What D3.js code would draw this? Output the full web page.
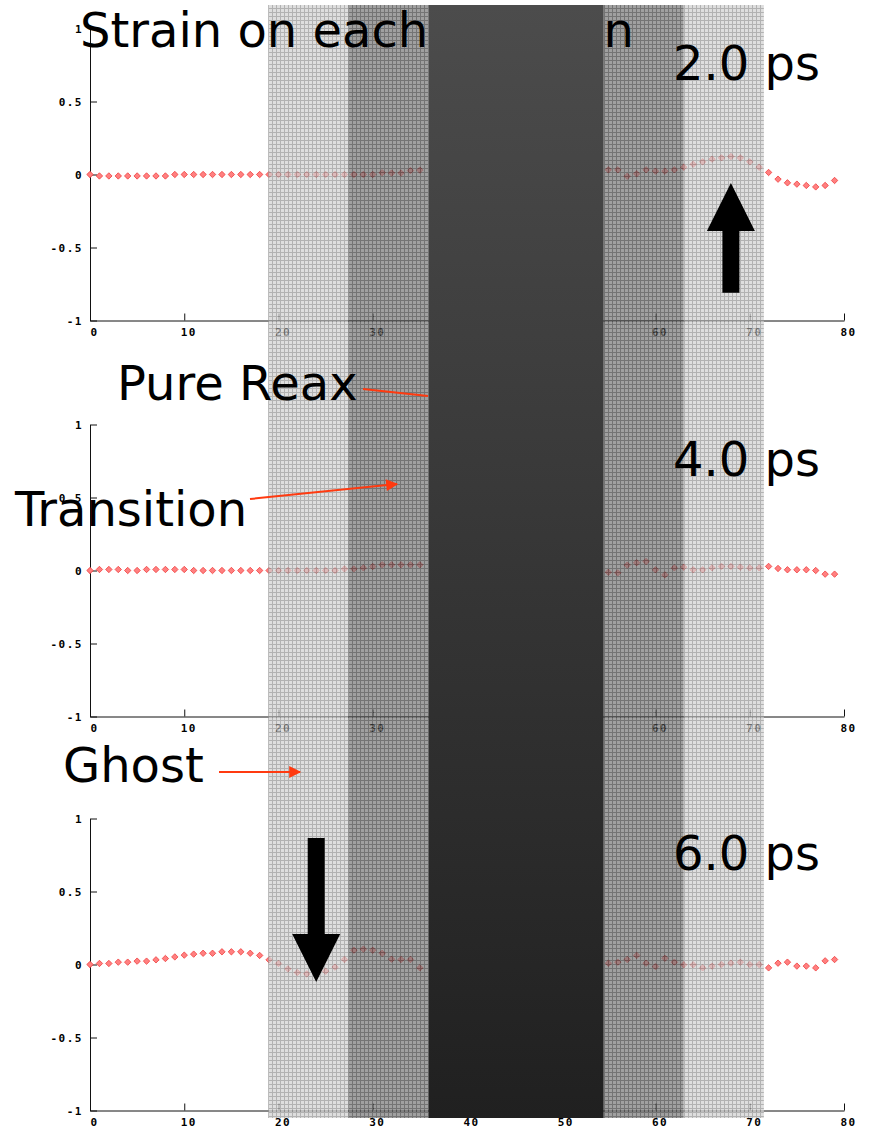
<!DOCTYPE html>
<html>
<head>
<meta charset="utf-8">
<script src="https://cdn.jsdelivr.net/npm/d3@7"></script>
<style>
  body { margin: 0; background: #fff; }
  .tick text { font-family: "DejaVu Sans Mono", monospace; font-size: 11px; font-weight: bold; letter-spacing: 1.5px; fill: #000; }
  .big { font-family: "DejaVu Sans", Verdana, sans-serif; font-size: 48px; fill: #000; }
</style>
</head>
<body>
<svg width="871" height="1132"></svg>
<script>
var svg = d3.select("svg"),
    width = +svg.attr("width"),
    height = +svg.attr("height");

// atom index along the chain (0..79)
var atoms = d3.range(80);
var xTicks = [0, 10, 20, 30, 40, 50, 60, 70, 80];
var yTicks = [-1, -0.5, 0, 0.5, 1];
var times = ["2.0 ps", "4.0 ps", "6.0 ps"];

// strain per atom, null where hidden under the Reax region
var strain2 = [0, -0.01, -0.01, -0.01, -0.01, -0.01, -0.01, -0.01, -0.01, 0,
  0, 0, 0, 0, 0, 0, 0, 0, 0, 0,
  0, 0, 0, 0, 0, 0, 0, 0, 0, 0,
  0, 0.012, 0.01, 0.01, 0.027, 0.03, null, null, null, null,
  null, null, null, null, null, null, null, null, null, null,
  null, null, null, null, null, 0.032, 0.032, -0.012, 0.005, 0.032,
  0.023, 0.023, 0.032, 0.05, 0.07, 0.087, 0.105, 0.114, 0.123, 0.114,
  0.087, 0.05, 0.014, -0.032, -0.057, -0.066, -0.075, -0.085, -0.075, -0.041];
var strain4 = [0, 0.007, 0.007, 0.007, 0, 0, 0.007, 0.007, 0.007, 0.007,
  0.007, 0, 0, 0, 0, 0, 0, 0, 0, 0,
  0, 0, 0, 0, 0, 0, 0, 0.011, 0.011, 0.018,
  0.027, 0.039, 0.039, 0.039, 0.039, 0.039, null, null, null, null,
  null, null, null, null, null, null, null, null, null, null,
  null, null, null, null, null, -0.012, -0.016, 0.037, 0.053, 0.062,
  0.005, -0.03, 0.018, 0.023, 0.005, 0.005, 0.018, 0.028, 0.028, 0.023,
  0.018, 0.018, 0.028, 0.014, 0.005, 0.005, 0.005, 0, -0.025, -0.025];
var strain6 = [0, 0.007, 0.007, 0.016, 0.016, 0.023, 0.023, 0.032, 0.041, 0.052,
  0.064, 0.071, 0.077, 0.077, 0.087, 0.087, 0.087, 0.077, 0.062, 0.032,
  0.007, -0.03, -0.055, -0.064, -0.055, -0.046, -0.018, 0.034, 0.098, 0.105,
  0.098, 0.077, 0.036, 0.034, 0.034, -0.023, null, null, null, null,
  null, null, null, null, null, null, null, null, null, null,
  null, null, null, null, null, 0.009, 0.016, 0.034, 0.062, 0.009,
  -0.014, 0.043, 0.016, -0.002, -0.002, -0.023, -0.011, 0, 0.009, 0.016,
  0, 0, -0.023, 0.009, 0.016, -0.011, -0.011, -0.023, 0.025, 0.034];
var series = [strain2, strain4, strain6];

// region boundaries in atom units: ghost | transition | reax | transition | ghost
var regionEdges = [18.9, 27.4, 35.9, 54.5, 63.0, 71.5];

var panelTops = [28.5, 424.5, 818.5],
    panelH = 292;

var x = d3.scaleLinear().domain([0, 80]).range([90, 844]);

var defs = svg.append("defs");
function gridPattern(id, base, line) {
  var p = defs.append("pattern").attr("id", id)
      .attr("width", 4).attr("height", 4).attr("patternUnits", "userSpaceOnUse");
  p.append("rect").attr("width", 4).attr("height", 4).attr("fill", base);
  p.append("rect").attr("width", 4).attr("height", 1).attr("fill", line);
  p.append("rect").attr("width", 1).attr("height", 4).attr("fill", line);
}
gridPattern("ghost", "#d2d2d2", "#959595");
gridPattern("trans", "#7c7c7c", "#404040");
var grad = defs.append("linearGradient").attr("id", "reax")
    .attr("x1", 0).attr("x2", 0).attr("y1", 0).attr("y2", 1);
grad.append("stop").attr("offset", "0%").attr("stop-color", "#4c4c4c");
grad.append("stop").attr("offset", "100%").attr("stop-color", "#202020");

var diamond = "M0,-3.2L3.2,0L0,3.2L-3.2,0Z";

panelTops.forEach(function(top, i) {
  var y = d3.scaleLinear().domain([-1, 1]).range([top + panelH, top]);
  var g = svg.append("g");

  g.append("g")
      .attr("transform", "translate(0," + y(-1) + ")")
      .call(d3.axisBottom(x).tickValues(xTicks).tickSizeInner(-7).tickSizeOuter(0)
        .tickPadding(8).tickFormat(function(d) { return String(d); }))
      .call(function(a) {
        a.select(".domain").attr("stroke", "#111");
        a.selectAll(".tick line").attr("stroke", "#111");
        a.selectAll(".tick text").attr("dx", 4);
      });

  g.append("g")
      .attr("transform", "translate(" + x(0) + ",0)")
      .call(d3.axisLeft(y).tickValues(yTicks).tickSizeInner(-7).tickSizeOuter(0)
        .tickPadding(7).tickFormat(function(d) { return String(d); }))
      .call(function(a) {
        a.select(".domain").attr("stroke", "#111");
        a.selectAll(".tick line").attr("stroke", "#111");
      });

  g.append("g").selectAll("path")
    .data(atoms.filter(function(k) { return series[i][k] != null; }))
    .enter().append("path")
      .attr("d", diamond)
      .attr("transform", function(k) { return "translate(" + x(k) + "," + y(series[i][k]) + ")"; })
      .attr("fill", "#ff8080")
      .attr("stroke", "#f03c3c")
      .attr("stroke-width", 0.8);
});

// region bands
var bandTop = 5, bandBottom = 1118;
var sideBands = [
  [regionEdges[0], regionEdges[1], "ghost"],
  [regionEdges[1], regionEdges[2], "trans"],
  [regionEdges[3], regionEdges[4], "trans"],
  [regionEdges[4], regionEdges[5], "ghost"]
];
svg.append("g").attr("opacity", 0.72)
  .selectAll("rect").data(sideBands).enter().append("rect")
    .attr("x", function(d) { return x(d[0]); })
    .attr("width", function(d) { return x(d[1]) - x(d[0]); })
    .attr("y", bandTop)
    .attr("height", bandBottom - bandTop)
    .attr("fill", function(d) { return "url(#" + d[2] + ")"; });

svg.append("text").attr("class", "big")
    .attr("x", 80).attr("y", 47)
    .text("Strain on each location");

svg.append("rect")
    .attr("x", x(regionEdges[2]))
    .attr("width", x(regionEdges[3]) - x(regionEdges[2]))
    .attr("y", bandTop)
    .attr("height", bandBottom - bandTop)
    .attr("fill", "url(#reax)");

// time labels
svg.selectAll(".time").data(times).enter().append("text")
    .attr("class", "big")
    .attr("x", 673)
    .attr("y", function(d, i) { return panelTops[i] + 51; })
    .text(function(d) { return d; });

// region labels with red arrows
var red = "#ff3a10";
defs.append("marker").attr("id", "head")
    .attr("viewBox", "0 0 10 10").attr("refX", 9).attr("refY", 5)
    .attr("markerWidth", 8).attr("markerHeight", 6)
    .attr("markerUnits", "strokeWidth").attr("orient", "auto")
  .append("path").attr("d", "M0,0L10,5L0,10Z").attr("fill", red);

var labels = [
  {text: "Pure Reax", tx: 117, ty: 400, line: [[363, 389], [428, 396]], head: false},
  {text: "Transition", tx: 15, ty: 526, line: [[250, 499], [397, 484]], head: true},
  {text: "Ghost", tx: 63, ty: 782, line: [[219, 772], [300, 772]], head: true}
];
labels.forEach(function(l) {
  svg.append("text").attr("class", "big").attr("x", l.tx).attr("y", l.ty).text(l.text);
  svg.append("path")
      .attr("d", d3.line()(l.line))
      .attr("stroke", red)
      .attr("stroke-width", 2)
      .attr("fill", "none")
      .attr("marker-end", l.head ? "url(#head)" : null);
});

// black block arrows, placed in data units of their panel
var blockArrows = [
  {panel: 0, atom: 68, from: -0.81, to: -0.058},
  {panel: 2, atom: 24, from: 0.866, to: -0.12}
];
blockArrows.forEach(function(a) {
  var y = d3.scaleLinear().domain([-1, 1]).range([panelTops[a.panel] + panelH, panelTops[a.panel]]);
  var cx = x(a.atom), y0 = y(a.from), y1 = y(a.to);
  var dir = y1 < y0 ? -1 : 1;
  var headLen = 48, hw = 24, sw = 8.5;
  var yb = y1 - dir * headLen;
  svg.append("path")
      .attr("d", "M" + (cx - sw) + "," + y0 + "L" + (cx - sw) + "," + yb +
                 "L" + (cx - hw) + "," + yb + "L" + cx + "," + y1 +
                 "L" + (cx + hw) + "," + yb + "L" + (cx + sw) + "," + yb +
                 "L" + (cx + sw) + "," + y0 + "Z")
      .attr("fill", "#000");
});
</script>
</body>
</html>
